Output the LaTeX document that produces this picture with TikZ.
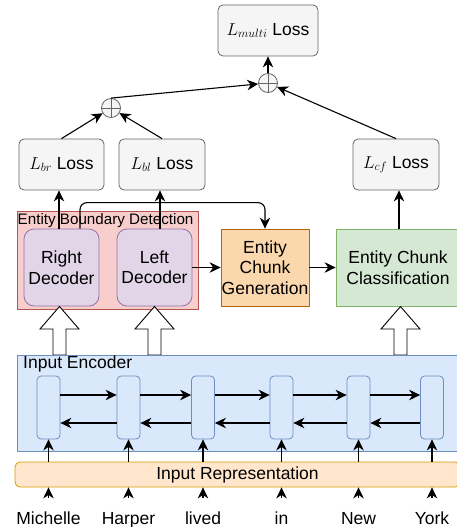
\documentclass[tikz,border=0pt]{standalone}
\usepackage{fontspec}
\setmainfont{Liberation Sans}
\usetikzlibrary{arrows.meta,calc}
\definecolor{gfill}{HTML}{F5F5F5}
\definecolor{gline}{HTML}{666666}
\definecolor{rfill}{HTML}{F8CECC}
\definecolor{rline}{HTML}{B85450}
\definecolor{pfill}{HTML}{E1D5E7}
\definecolor{pline}{HTML}{9673A6}
\definecolor{ofill}{HTML}{FAD7AC}
\definecolor{oline}{HTML}{B46504}
\definecolor{grfill}{HTML}{D5E8D4}
\definecolor{grline}{HTML}{82B366}
\definecolor{bfill}{HTML}{DAE8FC}
\definecolor{bline}{HTML}{6C8EBF}
\definecolor{yfill}{HTML}{FFE6CC}
\definecolor{yline}{HTML}{D79B00}
\begin{document}
\begin{tikzpicture}[x=1pt,y=-1pt,
  font=\fontsize{17.5}{20.5}\selectfont,
  arr/.style={line width=1.1pt,-{Stealth[length=11pt,width=10.5pt,inset=3.5pt]}},
  lossbox/.style={draw=gline,fill=gfill,line width=0.8pt,rounded corners=5pt,minimum width=85pt,minimum height=51pt,inner sep=0pt},
  plusnode/.style={circle,draw=gline,fill=gfill,line width=0.8pt,minimum size=19pt,inner sep=0pt},
  decbox/.style={draw=pline,fill=pfill,line width=0.8pt,rounded corners=10pt,minimum width=75pt,minimum height=77pt,inner sep=0pt,align=center},
  cellbox/.style={draw=bline,fill=bfill,line width=0.8pt,rounded corners=4pt,minimum width=23pt,minimum height=63pt,inner sep=0pt},
  wordnode/.style={inner sep=0pt,text height=12.5pt,text depth=3.5pt},
  hollow/.style={draw=black,fill=white,line width=0.9pt}
]
\useasboundingbox (0,0) rectangle (457,527);
\clip (0,0) rectangle (457,527);

% top part
\node[lossbox,minimum width=100pt] (multi) at (268,30.5) {$L_{multi}$ Loss};
\node[plusnode] (ptop) at (268,83) {};
\node[plusnode] (pleft) at (111,108) {};
\foreach \p in {ptop,pleft}{
  \draw[gline,line width=0.8pt] (\p.north) -- (\p.south) (\p.west) -- (\p.east);
}
\node[lossbox] (br) at (61.5,164.5) {$L_{br}$ Loss};
\node[lossbox,minimum width=86pt] (bl) at (162,164.5) {$L_{bl}$ Loss};
\node[lossbox,minimum width=86pt] (cf) at (396,164.5) {$L_{cf}$ Loss};

\draw[arr] (ptop.north) -- (multi.south);
\draw[arr] (pleft.north) -- (ptop);
\draw[arr] (cf.north) -- (ptop);
\draw[arr] (br.north) -- (pleft);
\draw[arr] (bl.north) -- (pleft);

% middle
\node[draw=rline,fill=rfill,line width=0.8pt,minimum width=181pt,minimum height=98pt,inner sep=0pt] (ebd) at (107.5,260) {};
\node[anchor=west,inner sep=0pt,font=\fontsize{15.2}{18}\selectfont] (ebdlabel) at (17.5,221) {Entity Boundary Detection};
\node[decbox] (rdec) at (61.5,267.5) {Right\\Decoder};
\node[decbox] (ldec) at (154.5,267.5) {Left\\Decoder};
\node[draw=oline,fill=ofill,line width=0.8pt,minimum width=88pt,minimum height=77pt,inner sep=0pt,align=center] (ecg) at (265,267.5) {Entity\\Chunk\\Generation};
\node[draw=grline,fill=grfill,line width=0.8pt,minimum width=124pt,minimum height=77pt,inner sep=0pt,align=center] (ecc) at (398,267.5) {Entity Chunk\\Classification};

\draw[arr] ([xshift=-2.5pt]rdec.north) -- ([xshift=-2.5pt]br.south);
\draw[arr] ([xshift=5.5pt]ldec.north) -- ([xshift=-2pt]bl.south);
\draw[arr,rounded corners=7pt] ([xshift=18.5pt]rdec.north) -- ++(0,-26) -| (ecg.north);
\draw[arr] (ldec.east) -- (ecg.west);
\draw[arr] (ecg.east) -- (ecc.west);
\draw[arr] ([xshift=1pt]ecc.north) -- ([xshift=1pt]ecc.north |- cf.south);

% hollow arrows
\foreach \c in {59.5,154.5,400.5}{
  \draw[hollow] (\c-6.5,355) -- (\c-6.5,329) -- (\c-19.5,329) -- (\c,306.5) -- (\c+19.5,329) -- (\c+6.5,329) -- (\c+6.5,355) -- cycle;
}

% encoder
\node[draw=bline,fill=bfill,line width=0.8pt,minimum width=445pt,minimum height=96pt,inner sep=0pt] (enc) at (239.5,403) {};
\node[anchor=west,inner sep=0pt] (enclabel) at (23,364) {Input Encoder};
\foreach \i/\x in {1/48.5,2/128.5,3/203,4/281.5,5/358.5,6/432}{
  \node[cellbox] (c\i) at (\x,407.5) {};
}
\foreach \i/\j in {1/2,2/3,3/4,4/5,5/6}{
  \draw[arr] ([yshift=12.5pt]c\i.east) -- ([yshift=12.5pt]c\j.west);
  \draw[arr] ([yshift=-15.5pt]c\j.west) -- ([yshift=-15.5pt]c\i.east);
}

% input representation
\node[draw=yline,fill=yfill,line width=0.8pt,rounded corners=5pt,minimum width=445pt,minimum height=25pt,inner sep=0pt] (rep) at (237.5,474.5) {Input Representation};
\foreach \i/\w in {1/Michelle,2/Harper,3/lived,4/in,5/New,6/York}{
  \node[wordnode,anchor=base] (w\i) at (c\i |- 0,524) {\w};
  \draw[arr] (c\i.south |- rep.north) -- (c\i.south);
  \draw[arr] ([yshift=13.5pt]w\i.north) -- (w\i.north |- rep.south);
}
\end{tikzpicture}
\end{document}
